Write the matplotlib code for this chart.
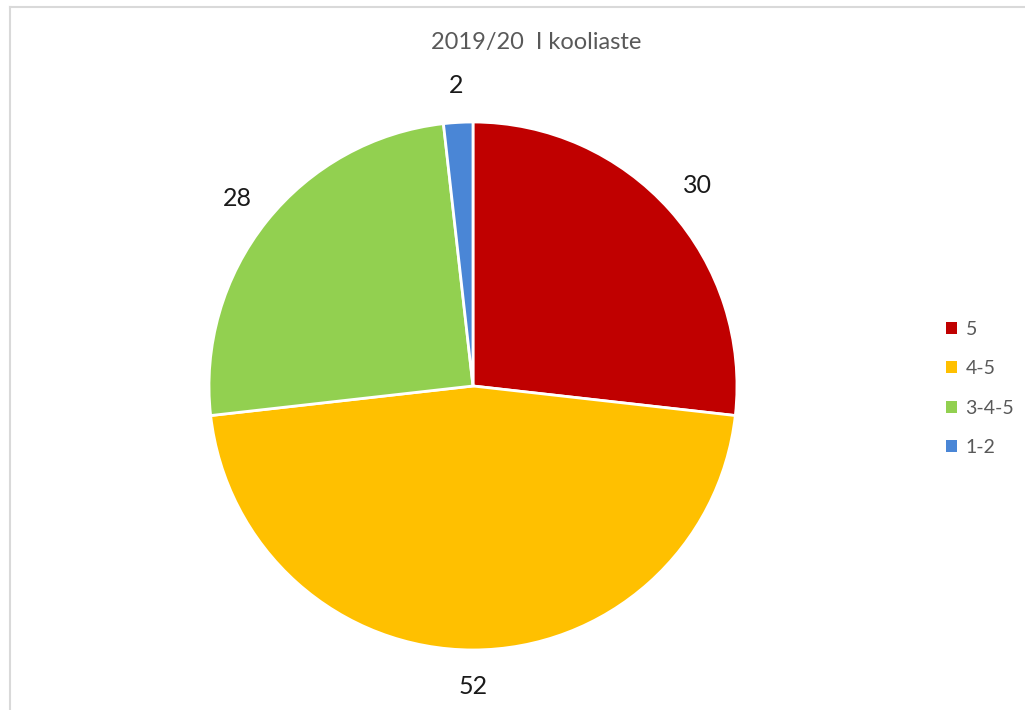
import numpy as np
import matplotlib.pyplot as plt
from matplotlib.lines import Line2D
from matplotlib.patches import Patch

plt.rcParams['font.family'] = ['Lato', 'DejaVu Sans']

labels = ['5', '4-5', '3-4-5', '1-2']
values = [30, 52, 28, 2]
colors = ['#C00000', '#FFC000', '#92D050', '#4A86D6']
title = '2019/20  I kooliaste'

total = sum(values)

fig = plt.figure(figsize=(10.25, 7.1), dpi=100)
fig.patch.set_facecolor('white')

# pie area: centre ~ (473, 386) px, radius ~ 264 px
ax = fig.add_axes([0.2039, 0.0845, 0.5151, 0.7437])
wedges, texts = ax.pie(values, colors=colors, startangle=90, counterclock=False,
                       radius=1.0, wedgeprops=dict(edgecolor='white', linewidth=2))
for w, v in zip(wedges, values):
    ang = np.deg2rad((w.theta1 + w.theta2) / 2)
    ax.text(1.14 * np.cos(ang), 1.14 * np.sin(ang), str(v), ha='center', va='center',
            fontsize=18, color='#1a1a1a')
ax.set_xlim(-1, 1)
ax.set_ylim(-1, 1)
ax.set_aspect('equal')
ax.axis('off')

fig.text(0.523, 0.94, title, ha='center', va='center', fontsize=17, color='#595959')

handles = [Patch(facecolor=c, edgecolor='none') for c in colors]
fig.legend(handles, labels, loc='center left', bbox_to_anchor=(0.906, 0.453),
           frameon=False, fontsize=14, labelcolor='#595959',
           handlelength=0.55, handleheight=0.55, handletextpad=0.45, labelspacing=1.15)

# light frame on top and left
fig.add_artist(Line2D([0.0098, 1.0], [0.990, 0.990], color='#d9d9d9', linewidth=1.5))
fig.add_artist(Line2D([0.0098, 0.0098], [0.0, 0.990], color='#d9d9d9', linewidth=1.5))

fig.savefig('out.png', dpi=100)
